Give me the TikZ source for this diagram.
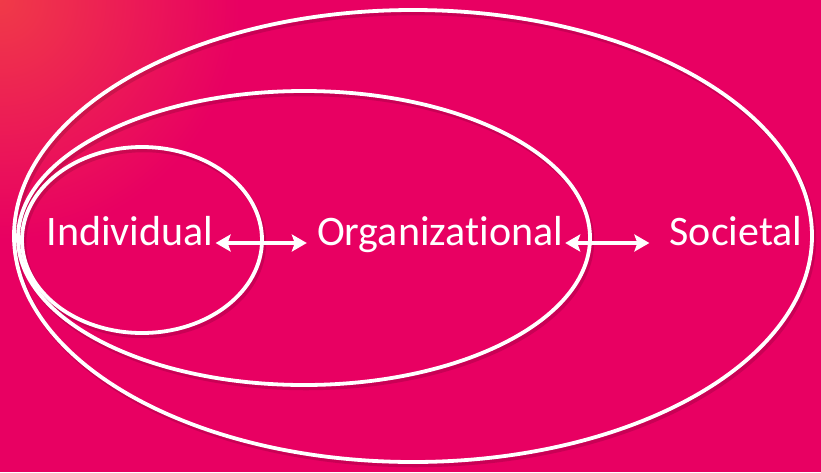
\documentclass[tikz,border=0pt]{standalone}
\usepackage{fontspec}
\setmainfont{Carlito}[Ligatures=NoCommon]
\usepackage{xcolor}
\usetikzlibrary{positioning,calc,arrows.meta}
\definecolor{bgpink}{HTML}{E80062}
\definecolor{bgred}{HTML}{F03A48}

\begin{document}
\begin{tikzpicture}[x=1pt, y=-1pt,
    ring/.style={draw=white, line width=3.8pt},
    ringshadow/.style={draw=black, opacity=0.13, line width=4.5pt},
    level/.style={text=white, font=\fontsize{42}{50}\selectfont, inner sep=2pt,
                  text height=0.7em, text depth=0.2em},
    link/.style={draw=white, line width=3.4pt, {Stealth[length=15pt,width=17pt,inset=3pt]}-{Stealth[length=15pt,width=17pt,inset=3pt]}}]
    % background
    \fill[bgpink] (0,0) rectangle (821,472);
    \begin{scope}
        \clip (0,0) rectangle (821,472);
        \shade[inner color=bgred, outer color=bgpink] (0,0) circle (240);
    \end{scope}
    \useasboundingbox (0,0) rectangle (821,472);

    % nested ellipses
    \draw[ringshadow] (415,239) ellipse (399 and 226);
    \draw[ringshadow] (306,241) ellipse (286 and 147);
    \draw[ringshadow] (144,243) ellipse (120 and 93);
    \draw[ring] (413,236) ellipse (399 and 226);
    \draw[ring] (304,238) ellipse (286 and 147);
    \draw[ring] (142,240) ellipse (120 and 93);

    % labels
    \node[level] (indiv) at (130,243) {Individual};
    \node[level] (org) at (440,243) {Organizational};
    \node[level] (soc) at (736,243) {Societal};

    \draw[link, shorten >=8pt] (indiv.east) -- (org.west);
    \draw[link, shorten >=18pt] (org.east) -- (soc.west);
\end{tikzpicture}
\end{document}
